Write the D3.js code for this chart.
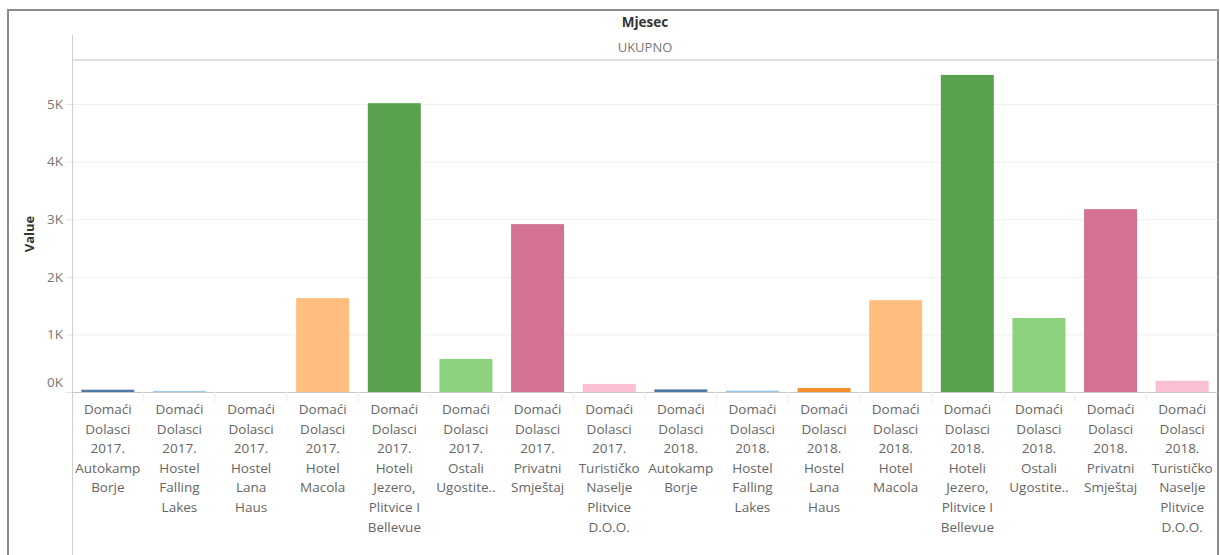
<!DOCTYPE html>
<html>
<head>
<meta charset="utf-8">
<script src="https://cdn.jsdelivr.net/npm/d3@7"></script>
<style>
  html, body { margin: 0; padding: 0; background: #fff; }
  svg { display: block; font-family: "Open Sans", "Noto Sans", sans-serif; }
</style>
</head>
<body>
<svg id="chart" width="1220" height="555"></svg>
<script>
// ---- data ----
const years = ["2017.", "2018."];
const objects = ["Autokamp Borje", "Hostel Falling Lakes", "Hostel Lana Haus", "Hotel Macola",
  "Hoteli Jezero, Plitvice I Bellevue", "Ostali Ugostitelji", "Privatni Smještaj", "Turističko Naselje Plitvice D.O.O."];
const objectLabelLines = [
  ["Autokamp", "Borje"],
  ["Hostel", "Falling", "Lakes"],
  ["Hostel", "Lana", "Haus"],
  ["Hotel", "Macola"],
  ["Hoteli", "Jezero,", "Plitvice I", "Bellevue"],
  ["Ostali", "Ugostite.."],
  ["Privatni", "Smještaj"],
  ["Turističko", "Naselje", "Plitvice", "D.O.O."]
];
const values2017 = [40, 20, 0, 1630, 5015, 575, 2915, 140];
const values2018 = [45, 25, 70, 1595, 5505, 1285, 3175, 195];
const objectColors = ["#4e79a7", "#a0cbe8", "#f28e2b", "#ffbe7d", "#59a14f", "#8cd17d", "#d37295", "#fabfd2"];
const yTicks = [0, 1000, 2000, 3000, 4000, 5000];
const yTickLabels = ["0K", "1K", "2K", "3K", "4K", "5K"];

(function () {
// build rows
const rows = [];
years.forEach((yr, yi) => {
  const vals = yi === 0 ? values2017 : values2018;
  objects.forEach((o, oi) => {
    rows.push({ key: "Domaći Dolasci " + yr + " " + o, year: yr, obj: o, oi, value: vals[oi],
      lines: ["Domaći", "Dolasci", yr].concat(objectLabelLines[oi]) });
  });
});

const svg = d3.select("#chart");
const pLeft = 72, pRight = 1218, pTop = 60, base = 392;

// outer frame
svg.append("rect").attr("x", 8).attr("y", 10).attr("width", 1210).attr("height", 600)
  .attr("fill", "none").attr("stroke", "#8a8a8a").attr("stroke-width", 2);

const x = d3.scaleBand().domain(rows.map(d => d.key)).range([pLeft, pRight]).paddingInner(0.26).paddingOuter(0.13);
const y = d3.scaleLinear().domain([0, 5765]).range([base, pTop]);
const color = d3.scaleOrdinal().domain(objects).range(objectColors);

// headers
svg.append("text").attr("x", (pLeft + pRight) / 2).attr("y", 27).attr("text-anchor", "middle")
  .attr("font-size", 13.5).attr("font-weight", "bold").attr("fill", "#333").text("Mjesec");
svg.append("text").attr("x", (pLeft + pRight) / 2).attr("y", 52).attr("text-anchor", "middle")
  .attr("font-size", 13).attr("fill", "#777").text("UKUPNO");
svg.append("line").attr("x1", pLeft).attr("x2", pRight).attr("y1", pTop).attr("y2", pTop)
  .attr("stroke", "#d4d4d4").attr("stroke-width", 1.5);

// gridlines
svg.append("g").selectAll("line").data(yTicks.slice(1)).join("line")
  .attr("x1", pLeft).attr("x2", pRight).attr("y1", d => y(d) + 0.5).attr("y2", d => y(d) + 0.5)
  .attr("stroke", "#efefef");

// y axis
const yAxis = d3.axisLeft(y).tickValues(yTicks).tickSize(6).tickPadding(3)
  .tickFormat((d, i) => yTickLabels[i]);
const gy = svg.append("g").attr("transform", `translate(${pLeft},0)`).call(yAxis);
gy.select(".domain").remove();
gy.selectAll(".tick line").attr("stroke", "#e6e6e6");
gy.selectAll(".tick text").attr("font-size", 13.5).attr("fill", "#777")
  .attr("font-family", "\"Open Sans\", sans-serif");
gy.selectAll(".tick").filter(d => d === 0).select("text").attr("dy", "-0.4em");
svg.append("line").attr("x1", pLeft + 0.5).attr("x2", pLeft + 0.5).attr("y1", 35).attr("y2", 555)
  .attr("stroke", "#cfcfcf");

svg.append("text").attr("transform", `translate(34,${(pTop + base) / 2 + 8}) rotate(-90)`)
  .attr("text-anchor", "middle").attr("font-size", 13).attr("font-weight", "bold").attr("fill", "#333")
  .text("Value");

// bars
svg.append("g").selectAll("rect").data(rows).join("rect")
  .attr("x", d => x(d.key)).attr("width", x.bandwidth())
  .attr("y", d => y(d.value)).attr("height", d => base - y(d.value))
  .attr("fill", d => color(d.obj));

// baseline
svg.append("line").attr("x1", pLeft).attr("x2", pRight).attr("y1", base + 0.5).attr("y2", base + 0.5)
  .attr("stroke", "#c8c8c8");

// x band separators
const seps = d3.range(1, rows.length).map(i => pLeft + i * (pRight - pLeft) / rows.length);
svg.append("g").selectAll("line").data(seps).join("line")
  .attr("x1", d => d).attr("x2", d => d).attr("y1", base).attr("y2", base + 10)
  .attr("stroke", "#eeeeee");

// x labels
const xl = svg.append("g").selectAll("text").data(rows).join("text")
  .attr("x", d => x(d.key) + x.bandwidth() / 2).attr("y", 414)
  .attr("text-anchor", "middle").attr("font-size", 13.5).attr("fill", "#666");
xl.selectAll("tspan").data(d => d.lines).join("tspan")
  .attr("x", function () { return d3.select(this.parentNode).attr("x"); })
  .attr("dy", (d, i) => i === 0 ? 0 : 19.6).text(d => d);
})();
</script>
</body>
</html>
